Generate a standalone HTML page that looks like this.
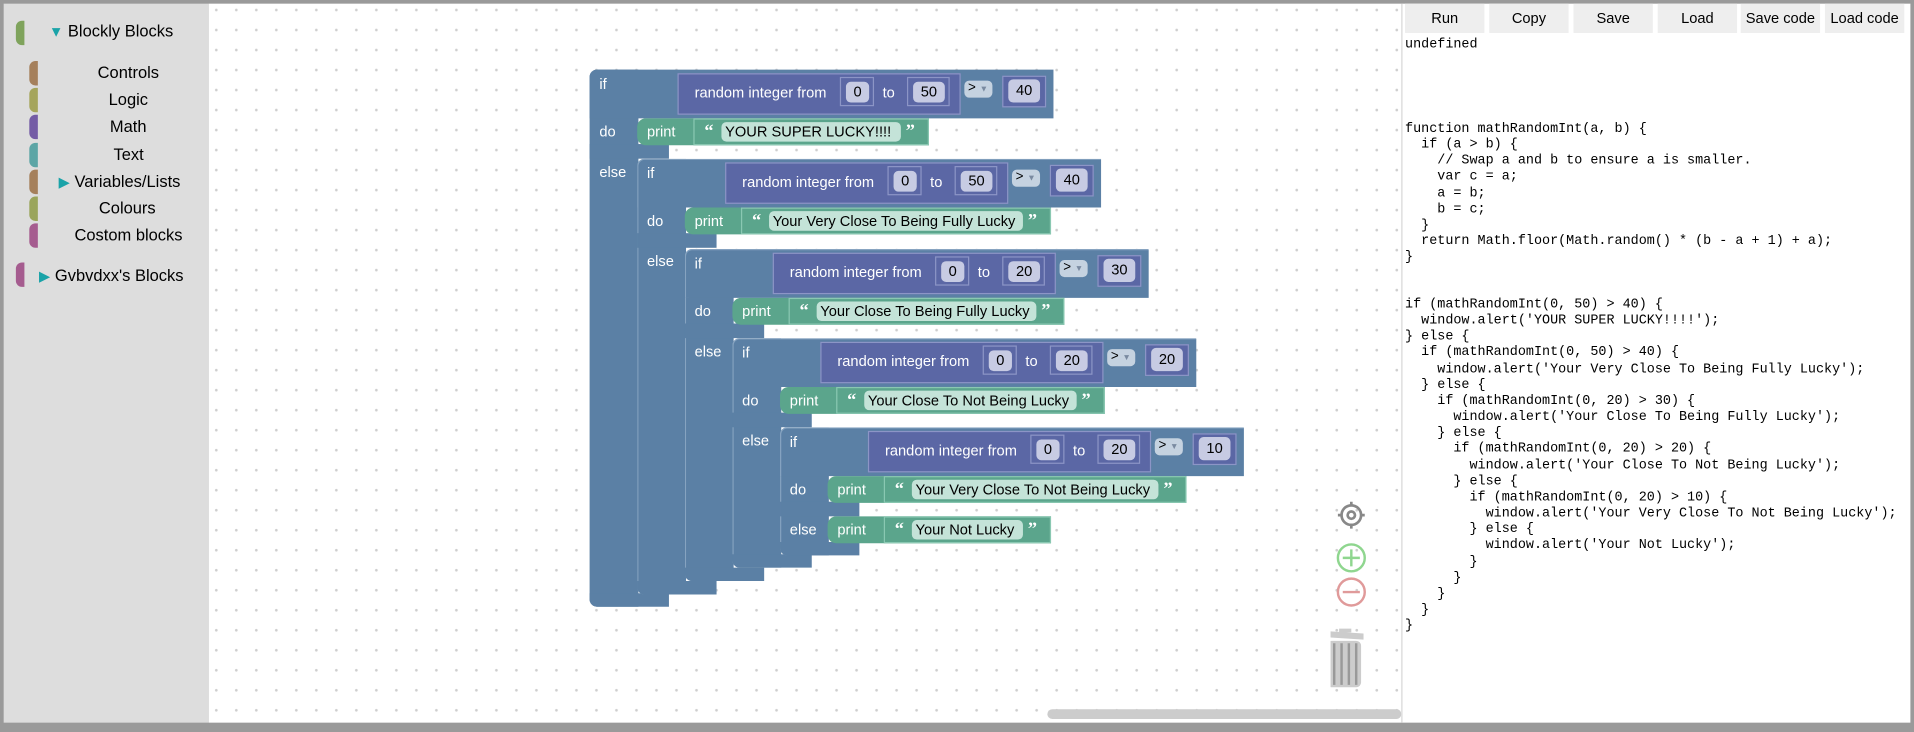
<!DOCTYPE html>
<html><head><meta charset="utf-8"><style>
*{box-sizing:border-box;margin:0;padding:0}
body{width:1914px;height:732px;overflow:hidden;background:#9a9a9a;font-family:"Liberation Sans",sans-serif}
#s{position:absolute;left:0;top:0;width:1568px;height:600px;transform:scale(1.2207);transform-origin:0 0;background:#9a9a9a}
.a{position:absolute}
#side{left:3px;top:3px;width:168px;height:589px;background:#ddd}
#ws{left:171px;top:3px;width:977px;height:589px;background-color:#fff;background-image:radial-gradient(circle,#cfcfcf 0.9px,transparent 1.3px);background-size:16.4px 16.4px;background-position:-2px -3px;overflow:hidden}
#rp{left:1148px;top:3px;width:417px;height:589px;background:#fff;border-left:1px solid #ddd}
.tab{position:absolute;width:7px;height:20px;border-radius:5px 0 0 5px}
.si{position:absolute;font-size:13.5px;color:#000;white-space:nowrap}
.btn{position:absolute;top:3px;height:24px;width:65px;background:#eee;font-size:12px;text-align:center;line-height:24px;color:#000}
pre{position:absolute;left:1151px;font-family:"Liberation Mono",monospace;font-size:11px;line-height:13.15px;color:#000}
.b{position:absolute;background:#5b80a5}
.lb{position:absolute;color:#fff;font-size:12px;white-space:nowrap}
.ri{position:absolute;background:#5b67a5;border:1px solid #8c95c6;height:34px}
.nb{position:absolute;background:#5b67a5;border:1px solid #8c95c6}
.nf{position:absolute;background:#c7cbe3;border-radius:4px;color:#000;font-size:12px;text-align:center}
.dd{position:absolute;background:#c5d2e0;border-radius:4px;font-size:11px;color:#000;padding-left:3px;width:23px;height:14px;line-height:13px}
.pr{position:absolute;background:#5ba58c;height:22px;border-radius:7px 0 0 7px}
.tb{position:absolute;background:#5ba58c;border:1px solid #8ac8b2;height:22px}
.tf{position:absolute;background:#c4e3d8;border-radius:4px;color:#000;font-size:12px;height:16px;line-height:16px;padding-left:3px;white-space:nowrap;overflow:hidden}
.q{position:absolute;color:#fff;font-size:15px;line-height:15px;font-weight:bold;font-family:"Liberation Serif",serif}
</style></head><body><div id="s">
<div class="a" id="side">
<div class="tab" style="left:10px;top:14px;background:#7fa35c"></div>
<div class="si" style="left:37px;top:15px"><span style="color:#1aa3a8;font-size:12px">▼</span> Blockly Blocks</div>
<div class="tab" style="left:21px;top:47px;background:#a5805c"></div><div class="si" style="left:77px;top:49px">Controls</div>
<div class="tab" style="left:21px;top:69px;background:#a5a55c"></div><div class="si" style="left:86px;top:71px">Logic</div>
<div class="tab" style="left:21px;top:91px;background:#745ca5"></div><div class="si" style="left:87px;top:93px">Math</div>
<div class="tab" style="left:21px;top:114px;background:#5ca5a5"></div><div class="si" style="left:90px;top:116px">Text</div>
<div class="tab" style="left:21px;top:136px;background:#a5805c"></div><div class="si" style="left:45px;top:138px"><span style="color:#1aa3a8;font-size:12px">▶</span> Variables/Lists</div>
<div class="tab" style="left:21px;top:158px;background:#9aa55c"></div><div class="si" style="left:78px;top:160px">Colours</div>
<div class="tab" style="left:21px;top:180px;background:#a55c8f"></div><div class="si" style="left:58px;top:182px">Costom blocks</div>
<div class="tab" style="left:10px;top:212px;background:#a55c8f"></div><div class="si" style="left:29px;top:215px"><span style="color:#1aa3a8;font-size:12px">▶</span> Gvbvdxx's Blocks</div>
</div>
<div class="a" id="ws"></div>
<div class="a" style="left:858px;top:581px;width:290px;height:8px;background:#ccc;border-radius:4px"></div>
<div class="a" id="rp"></div>
<div class="btn" style="left:1151px">Run</div><div class="btn" style="left:1220px">Copy</div><div class="btn" style="left:1289px">Save</div><div class="btn" style="left:1358px">Load</div><div class="btn" style="left:1426px">Save code</div><div class="btn" style="left:1495px">Load code</div>
<pre style="top:31px">undefined</pre>
<pre style="top:100px">function mathRandomInt(a, b) {
  if (a &gt; b) {
    // Swap a and b to ensure a is smaller.
    var c = a;
    a = b;
    b = c;
  }
  return Math.floor(Math.random() * (b - a + 1) + a);
}</pre>
<pre style="top:244px">if (mathRandomInt(0, 50) &gt; 40) {
  window.alert('YOUR SUPER LUCKY!!!!');
} else {
  if (mathRandomInt(0, 50) &gt; 40) {
    window.alert('Your Very Close To Being Fully Lucky');
  } else {
    if (mathRandomInt(0, 20) &gt; 30) {
      window.alert('Your Close To Being Fully Lucky');
    } else {
      if (mathRandomInt(0, 20) &gt; 20) {
        window.alert('Your Close To Not Being Lucky');
      } else {
        if (mathRandomInt(0, 20) &gt; 10) {
          window.alert('Your Very Close To Not Being Lucky');
        } else {
          window.alert('Your Not Lucky');
        }
      }
    }
  }
}</pre>
<svg class="a" style="left:1090px;top:405px" width="40" height="165" viewBox="0 0 40 165">
<g stroke="#888" fill="none" stroke-width="2.2"><circle cx="17" cy="17" r="8"/><circle cx="17" cy="17" r="3"/><line x1="17" y1="6" x2="17" y2="9"/><line x1="17" y1="25" x2="17" y2="28"/><line x1="6" y1="17" x2="9" y2="17"/><line x1="25" y1="17" x2="28" y2="17"/></g>
<g stroke="#8fd68f" fill="none" stroke-width="2"><circle cx="17" cy="52" r="11"/><line x1="17" y1="45" x2="17" y2="59"/><line x1="10" y1="52" x2="24" y2="52"/></g>
<g stroke="#e09a9a" fill="none" stroke-width="2"><circle cx="17" cy="80" r="11"/><line x1="10" y1="80" x2="24" y2="80"/></g>
<path d="M-4 112 L27 114 L27 119 L-4 117Z M7 110 L17 110 L17 113 L7 113Z" fill="#ccc"/>
<rect x="-3" y="120" width="28" height="38" rx="4" fill="#ccc"/>
<g stroke="#999" stroke-width="2"><line x1="3" y1="122" x2="3" y2="156"/><line x1="9" y1="122" x2="9" y2="156"/><line x1="15" y1="122" x2="15" y2="156"/><line x1="21" y1="122" x2="21" y2="156"/></g>
</svg>

<div id="blk"></div>
<script>
var H='';
var D=[[483,57,'50','40',738,'YOUR SUPER LUCKY!!!!',497],[522,130,'50','40',838,'Your Very Close To Being Fully Lucky',487],[561,204,'20','30',849,'Your Close To Being Fully Lucky',476],[600,277,'20','20',882,'Your Close To Not Being Lucky',465],[639,350,'20','10',949,'Your Very Close To Not Being Lucky',455]];
function pr(x,y,fe,txt){
 var s='<div class="pr" style="left:'+x+'px;top:'+y+'px;width:'+(fe+23-x)+'px"></div>';
 s+='<div class="lb" style="left:'+(x+8)+'px;top:'+(y+4)+'px">print</div>';
 s+='<div class="tb" style="left:'+(x+46)+'px;top:'+y+'px;width:'+(fe+23-x-46)+'px"></div>';
 s+='<div class="q" style="left:'+(x+55)+'px;top:'+(y+4)+'px">“</div>';
 s+='<div class="tf" style="left:'+(x+69)+'px;top:'+(y+3)+'px;width:'+(fe-x-69)+'px">'+txt+'</div>';
 s+='<div class="q" style="left:'+(fe+4)+'px;top:'+(y+4)+'px">”</div>';
 return s;}
D.forEach(function(d,i){
 var x=d[0],t=d[1],bt=d[6];
 H+='<div class="b" style="left:'+x+'px;top:'+t+'px;width:40px;height:'+(bt-t)+'px;border-radius:6px 0 0 6px;'+(i?'border-left:1px solid #86a3c0;border-top:1px solid #86a3c0;':'')+'"></div>';
 H+='<div class="b" style="left:'+x+'px;top:'+t+'px;width:380px;height:40px;border-radius:6px 0 0 0;'+(i?'border-top:1px solid #86a3c0;border-left:1px solid #86a3c0;':'')+'"></div>';
 H+='<div class="b" style="left:'+x+'px;top:'+(t+61)+'px;width:65px;height:12px"></div>';
 H+='<div class="b" style="left:'+x+'px;top:'+(bt-11)+'px;width:65px;height:11px;border-radius:0 0 0 6px"></div>';
 H+='<div class="lb" style="left:'+(x+8)+'px;top:'+(t+5)+'px">if</div>';
 H+='<div class="lb" style="left:'+(x+8)+'px;top:'+(t+44)+'px">do</div>';
 H+='<div class="lb" style="left:'+(x+8)+'px;top:'+(t+77)+'px">else</div>';
 H+='<div class="ri" style="left:'+(x+72)+'px;top:'+(t+3)+'px;width:232px"></div>';
 H+='<div class="lb" style="left:'+(x+86)+'px;top:'+(t+12)+'px">random integer from</div>';
 H+='<div class="nb" style="left:'+(x+205)+'px;top:'+(t+6)+'px;width:28px;height:24px"></div>';
 H+='<div class="nf" style="left:'+(x+210)+'px;top:'+(t+10)+'px;width:19px;height:17px;line-height:17px">0</div>';
 H+='<div class="lb" style="left:'+(x+240)+'px;top:'+(t+12)+'px">to</div>';
 H+='<div class="nb" style="left:'+(x+260)+'px;top:'+(t+6)+'px;width:35px;height:24px"></div>';
 H+='<div class="nf" style="left:'+(x+265)+'px;top:'+(t+10)+'px;width:26px;height:17px;line-height:17px">'+d[2]+'</div>';
 H+='<div class="dd" style="left:'+(x+307)+'px;top:'+(t+9)+'px">&gt; <span style="font-size:7px;color:#7a8aa0">▼</span></div>';
 H+='<div class="nb" style="left:'+(x+338)+'px;top:'+(t+5)+'px;width:36px;height:26px"></div>';
 H+='<div class="nf" style="left:'+(x+343)+'px;top:'+(t+8)+'px;width:26px;height:19px;line-height:19px">'+d[3]+'</div>';
 H+=pr(x+39,t+40,d[4],d[5]);
});
H+=pr(678,423,838,'Your Not Lucky');
document.getElementById('blk').innerHTML=H;
</script>
</div></body></html>
